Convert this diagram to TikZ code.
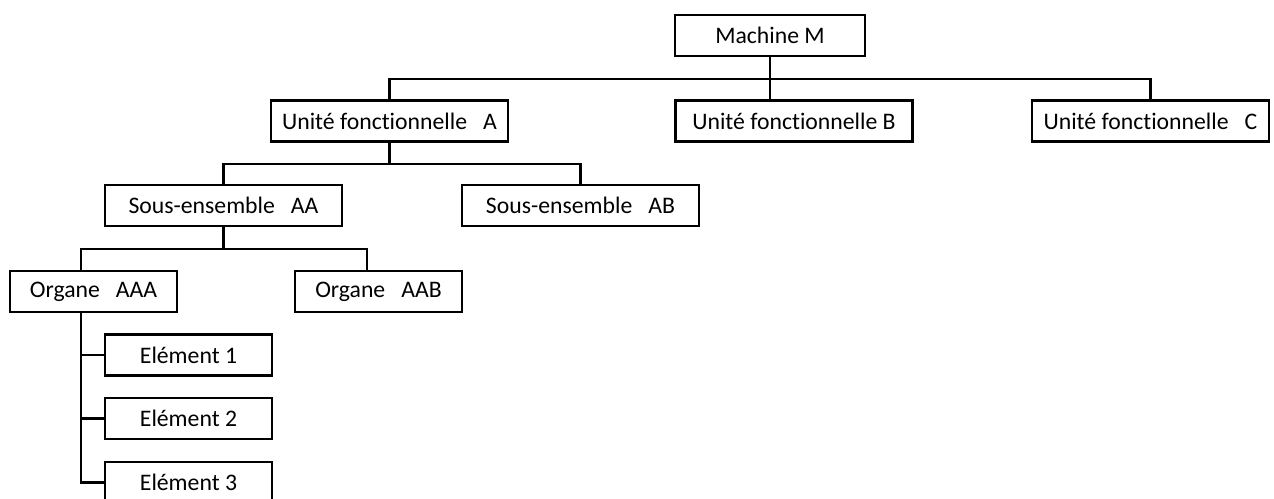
\documentclass[tikz,border=0pt]{standalone}
\usepackage{fontspec}
\setmainfont{Carlito}[Ligatures=NoCommon]
\usetikzlibrary{calc}

\begin{document}
\begin{tikzpicture}[x=0.02cm,y=-0.02cm,line width=1.4pt,
  box/.style={draw,minimum height=0.82cm,inner sep=0pt,font=\fontsize{13.5}{16}\selectfont},
  wide/.style={box,minimum width=4.74cm},
  narrow/.style={box,minimum width=3.34cm}]
\useasboundingbox (0,0) rectangle (1274,498);
\clip (0,0) rectangle (1274,498);
% boxes
\node[box,minimum width=3.8cm] (mach) at (770,35.5) {Machine M};
\node[wide] (ufA) at (389.5,121) {Unité fonctionnelle\ \ \ A};
\node[wide] (ufB) at (794,121) {Unité fonctionnelle\ B};
\node[wide] (ufC) at (1150.5,121) {Unité fonctionnelle\ \ \ C};
\node[wide] (seAA) at (223.5,205.5) {Sous-ensemble\ \ \ AA};
\node[wide] (seAB) at (580.5,205.5) {Sous-ensemble\ \ \ AB};
\node[narrow] (orgAAA) at (93.5,291.5) {Organe\ \ \ AAA};
\node[narrow] (orgAAB) at (378.5,291.5) {Organe\ \ \ AAB};
\node[narrow] (el1) at (188.5,355) {Elément 1};
\node[narrow] (el2) at (188.5,418.5) {Elément 2};
\node[narrow] (el3) at (188.5,482.5) {Elément 3};
% buses
\coordinate (bus0) at (0,79);
\coordinate (bus1) at (0,164);
\coordinate (bus2) at (0,249);
\coordinate (tAAA) at ($(orgAAA.north)+(-12.5,0)$);
\coordinate (bAAA) at ($(orgAAA.south)+(-12.5,0)$);
\coordinate (tAAB) at ($(orgAAB.north)+(-11.5,0)$);
% links
\draw (mach.south) -- (mach.south |- ufB.north);
\draw (ufA.north) |- (bus0 -| ufC.north) -- (ufC.north);
\draw (ufA.south) -- (ufA.south |- bus1);
\draw (seAA.north) |- (bus1 -| seAB.north) -- (seAB.north);
\draw (seAA.south) -- (seAA.south |- bus2);
\draw (tAAA) |- (bus2 -| tAAB) -- (tAAB);
\draw (bAAA) |- (el3.west);
\draw (bAAA |- el1.west) -- (el1.west);
\draw (bAAA |- el2.west) -- (el2.west);
\end{tikzpicture}
\end{document}
